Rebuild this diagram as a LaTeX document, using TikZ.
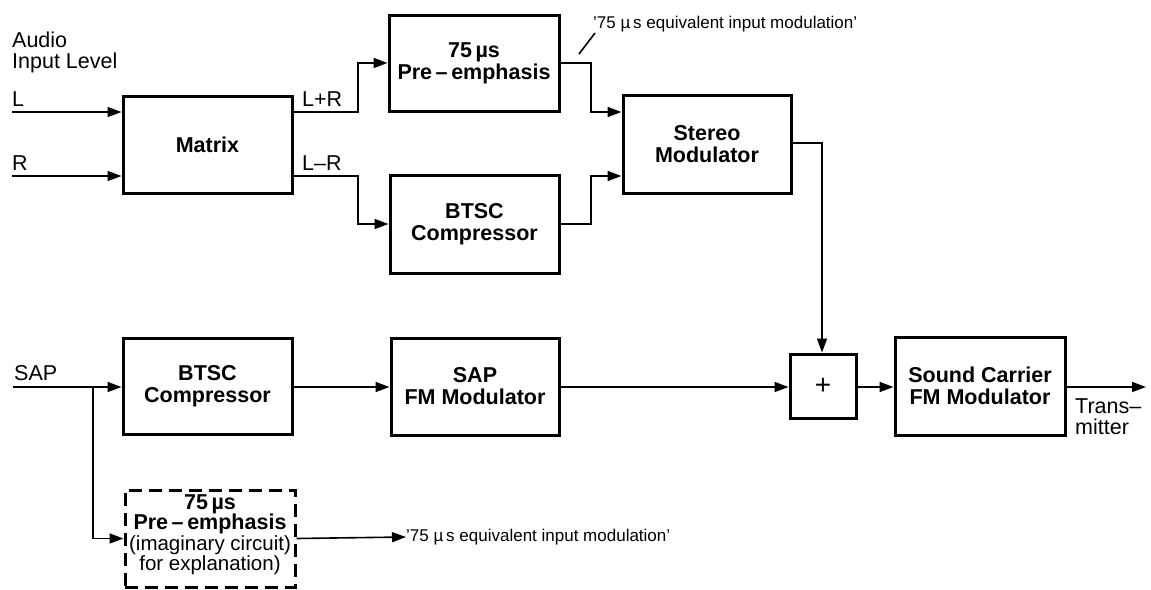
\documentclass[tikz,border=0pt]{standalone}
\usepackage{fontspec}
\setmainfont{Liberation Sans}
\usetikzlibrary{arrows.meta,calc}
\begin{document}
\begin{tikzpicture}[x=1pt,y=-1pt,
  every node/.style={font=\fontsize{21.5}{22}\selectfont, inner sep=0pt},
  blk/.style={draw, line width=3pt, align=center, font=\fontsize{21.5}{22}\selectfont\bfseries},
  dblk/.style={draw, line width=3pt, dash pattern=on 13pt off 7pt, align=center},
  conn/.style={line width=1.6pt},
  arr/.style={conn, -{Triangle[length=14pt,width=10pt]}},
  lbl/.style={font=\fontsize{21.5}{22}\selectfont, anchor=base west},
  note/.style={font=\fontsize{17}{21}\selectfont, anchor=west}
]
\useasboundingbox (0,0) rectangle (1151,589);

% blocks
\node[blk, minimum width=169pt, minimum height=97pt] (matrix) at (207.5,144.5) {Matrix};
\node[blk, minimum width=170pt, minimum height=96pt] (pre) at (474,63) {75\,µs\\Pre\,–\,emphasis};
\node[blk, minimum width=169pt, minimum height=98pt] (btsca) at (474.5,224) {BTSC\\Compressor};
\node[blk, minimum width=168pt, minimum height=98pt] (stereo) at (707,144) {Stereo\\Modulator};
\node[blk, minimum width=169pt, minimum height=96pt] (btscb) at (207.5,386) {BTSC\\Compressor};
\node[blk, minimum width=168pt, minimum height=97pt] (sapfm) at (475,386.5) {SAP\\FM Modulator};
\node[blk, minimum width=66pt, minimum height=64pt, font=\fontsize{28}{28}\selectfont] (plus) at (823,386) {+};
\node[blk, minimum width=170pt, minimum height=98pt] (scfm) at (980,386) {Sound Carrier\\FM Modulator};
\node[dblk, minimum width=170pt, minimum height=97pt] (dash) at (210,538.5) {};
\node[font=\fontsize{21.5}{22}\selectfont\bfseries, anchor=base] (dasha) at (210,509) {75\,µs};
\node[font=\fontsize{21.5}{22}\selectfont\bfseries, anchor=base] (dashb) at (210,529) {Pre\,–\,emphasis};
\node[anchor=base,font=\fontsize{20.5}{21}\selectfont] (dashc) at (210,550) {(imaginary circuit)};
\node[anchor=base,font=\fontsize{20.5}{21}\selectfont] (dashd) at (210,570) {for explanation)};

% text labels
\node[lbl] (audio) at (12,47) {Audio};
\node[lbl] (inlevel) at (12,68) {Input Level};
\node[lbl] (lL) at (12,106) {L};
\node[lbl] (lR) at (12,170) {R};
\node[lbl] (lsap) at (14,380) {SAP};
\node[lbl] (lpr) at (302,106) {L+R};
\node[lbl] (lmr) at (302,170) {L–R};
\node[lbl] (ltr) at (1075,413) {Trans–};
\node[lbl] (lmit) at (1075,434) {mitter};
\node[note] (ntop) at (593,24) {’75 µ\,s equivalent input modulation’};
\node[note] (nbot) at (406,537) {’75 µ\,s equivalent input modulation’};

% coordinates
\coordinate (Lin) at (12,112);
\coordinate (Rin) at (12,176);
\coordinate (ja) at (358,112);
\coordinate (jb) at (358,176);
\coordinate (jc) at (591,63);
\coordinate (jd) at (591,224);
\coordinate (je) at (822,143);
\coordinate (sapin) at (13,387);
\coordinate (br) at (93,387);
\coordinate (tx) at (1146,387);
\coordinate (tka) at (579,54);
\coordinate (tkb) at (595,33);

% connectors
\draw[arr] (Lin) -- (Lin -| matrix.west);
\draw[arr] (Rin) -- (Rin -| matrix.west);
\draw[arr] (ja -| matrix.east) -- (ja) |- (pre.west);
\draw[arr] (jb -| matrix.east) -- (jb) |- (btsca.west);
\draw[arr] (pre.east) -- (jc) |- (stereo.west |- ja);
\draw[arr] (btsca.east) -- (jd) |- (stereo.west |- jb);
\draw[arr] (stereo.east |- je) -- (je) -- (je |- plus.north);
\draw[arr] (sapin) -- (sapin -| btscb.west);
\draw[arr] (br) |- (dash.west);
\draw[arr] (btscb.east |- sapin) -- (sapin -| sapfm.west);
\draw[arr] (sapfm.east |- sapin) -- (sapin -| plus.west);
\draw[arr] (plus.east |- sapin) -- (sapin -| scfm.west);
\draw[arr] (scfm.east |- sapin) -- (tx);
\draw[arr] (dash.east) -- (nbot.west);
\draw[conn] (tka) -- (tkb);
\end{tikzpicture}
\end{document}
